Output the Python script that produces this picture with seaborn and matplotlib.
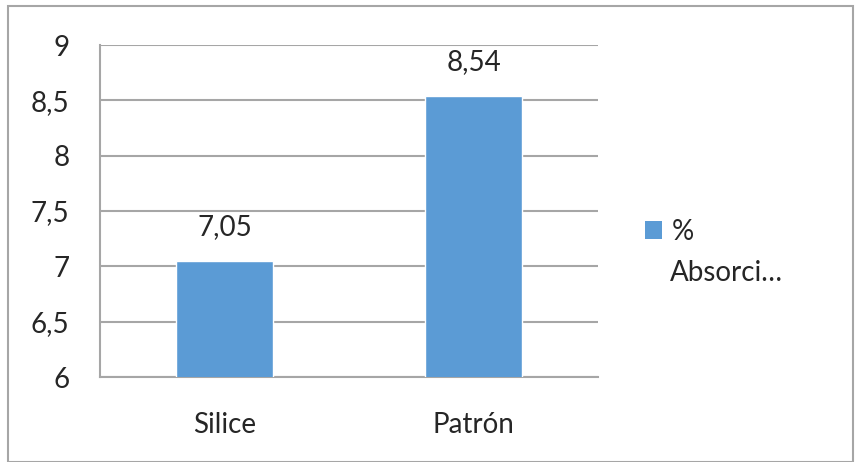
import matplotlib
matplotlib.use("Agg")
import matplotlib.pyplot as plt
import seaborn as sns
import pandas as pd
from matplotlib.patches import Rectangle

categories = ["Silice", "Patrón"]
values = [7.05, 8.54]
value_labels = ["7,05", "8,54"]
ytick_vals = [6, 6.5, 7, 7.5, 8, 8.5, 9]
ytick_labels = ["6", "6,5", "7", "7,5", "8", "8,5", "9"]
series_name = "% Absorci…"

sns.set_theme(style="white")
plt.rcParams['font.family'] = ['Lato', 'DejaVu Sans']

bar_color = "#5B9BD5"
grid_color = "#A6A6A6"
text_color = "#262626"

df = pd.DataFrame({"cat": categories, "val": values})

fig = plt.figure(figsize=(8.55, 4.62), dpi=100)
ax = fig.add_axes([100/855, 1-377/462, 498/855, 332/462])

sns.barplot(data=df, x="cat", y="val", color=bar_color, width=0.39, ax=ax,
            saturation=1, zorder=3, bottom=0)
ax.set_ylim(6, 9)
ax.set_xlim(-0.5, 1.5)
ax.set_yticks(ytick_vals)
ax.set_yticklabels(ytick_labels)
ax.yaxis.grid(True, color=grid_color, linewidth=1.5, zorder=0)
ax.set_axisbelow(True)
ax.set_xlabel("")
ax.set_ylabel("")
for s in ["top", "right"]:
    ax.spines[s].set_visible(False)
for s in ["left", "bottom"]:
    ax.spines[s].set_color(grid_color)
    ax.spines[s].set_linewidth(1.5)
ax.tick_params(axis="both", length=0, labelsize=20, colors=text_color)
ax.tick_params(axis="y", pad=22)
ax.tick_params(axis="x", pad=25)

for cont in ax.containers:
    ax.bar_label(cont, labels=value_labels, padding=15, fontsize=20, color=text_color)

handle = Rectangle((0, 0), 1, 1, facecolor=bar_color, edgecolor="none")
leg = fig.legend([handle], ["%"], loc="upper left", bbox_to_anchor=(620/855, 1-194/462),
                 frameon=False, fontsize=20, handlelength=0.6, handleheight=0.6,
                 handletextpad=0.35, labelcolor=text_color)
fig.text(670/855, 1-273/462, "Absorci…", fontsize=20, color=text_color, va="center", ha="left")

fig.patches.append(Rectangle((8/855, 0), 845/855, 1-6/462, transform=fig.transFigure,
                             fill=False, edgecolor="#A6A6A6", linewidth=1.5))

fig.savefig("out.png", dpi=100)
